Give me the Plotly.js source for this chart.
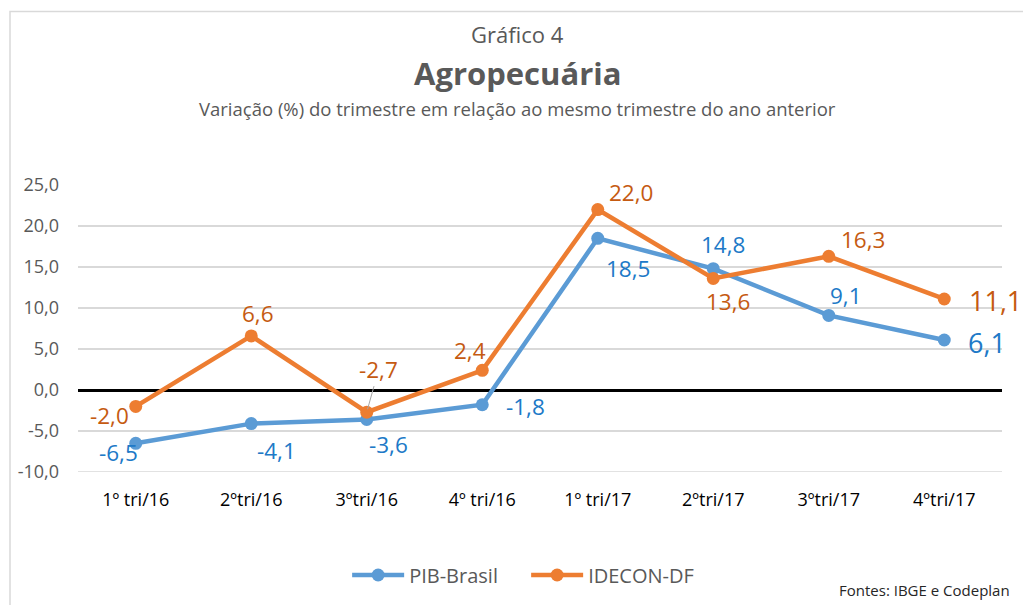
<!DOCTYPE html>
<html>
<head>
<meta charset="utf-8">
<script src="https://cdn.plot.ly/plotly-3.0.1.min.js"></script>
<style>
html,body{margin:0;padding:0;background:#fff;}
#chart{width:1023px;height:605px;}
</style>
</head>
<body>
<div id="chart"></div>
<script>
// ---- data ----
const categories = ["1º tri/16", "2ºtri/16", "3ºtri/16", "4º tri/16", "1º tri/17", "2ºtri/17", "3ºtri/17", "4ºtri/17"];
const pibBrasil = [-6.5, -4.1, -3.6, -1.8, 18.5, 14.8, 9.1, 6.1];
const ideconDF = [-2.0, 6.6, -2.7, 2.4, 22.0, 13.6, 16.3, 11.1];
const yTickValues = [-10, -5, 0, 5, 10, 15, 20, 25];

// ---- label placement (pixel offsets from each point) ----
const pibOffsets = [[-17, 9], [25, 27], [22, 25], [43, 2], [30, 30], [10, -24], [17, -20], [43, 3]];
const ideconOffsets = [[-26, 9], [7, -22], [12, -43], [-12, -20], [33, -17], [15, 23], [34, -17], [51, 2]];

const BLUE = "#5B9BD5", ORANGE = "#ED7D31";
const BLUE_TXT = "#2079C7", ORANGE_TXT = "#C55A11";
const FONT = "Open Sans";

function fmt(v) { return v.toFixed(1).replace(".", ","); }

const traces = [
  {
    x: categories, y: pibBrasil, name: "PIB-Brasil", type: "scatter", mode: "lines+markers",
    line: {color: BLUE, width: 4.5}, marker: {color: BLUE, size: 13}
  },
  {
    x: categories, y: ideconDF, name: "IDECON-DF", type: "scatter", mode: "lines+markers",
    line: {color: ORANGE, width: 4.5}, marker: {color: ORANGE, size: 13}
  }
];

const annotations = [];
function addLabels(vals, offs, color) {
  vals.forEach((v, i) => {
    const last = i === vals.length - 1;
    annotations.push({
      x: categories[i], y: v, xref: "x", yref: "y",
      text: fmt(v), showarrow: false,
      xshift: offs[i][0], yshift: -offs[i][1],
      font: {family: FONT, size: last ? 27 : 22.5, color: color},
      xanchor: "center", yanchor: "middle"
    });
  });
}
addLabels(pibBrasil, pibOffsets, BLUE_TXT);
addLabels(ideconDF, ideconOffsets, ORANGE_TXT);
// leader line for the 3ºtri/16 IDECON label
annotations.forEach(a => {
  if (a.x === categories[2] && a.y === ideconDF[2]) {
    a.showarrow = true; a.arrowhead = 0; a.arrowwidth = 1; a.arrowcolor = "#A6A6A6";
    a.ax = 12; a.ay = -43; a.axref = "pixel"; a.ayref = "pixel";
    a.xshift = 0; a.yshift = 0; a.standoff = 3;
  }
});

// titles
annotations.push({xref: "paper", yref: "paper", x: 0.476, y: (473 - 33) / 288, text: "Gráfico 4", showarrow: false,
  font: {family: FONT, size: 22, color: "#595959"}, xanchor: "center", yanchor: "middle"});
annotations.push({xref: "paper", yref: "paper", x: 0.476, y: (473 - 73) / 288, text: "<b>Agropecuária</b>", showarrow: false,
  font: {family: FONT, size: 31, color: "#595959"}, xanchor: "center", yanchor: "middle"});
annotations.push({xref: "paper", yref: "paper", x: 0.476, y: (473 - 108) / 288, text: "Variação (%) do trimestre em relação ao mesmo trimestre do ano anterior", showarrow: false,
  font: {family: FONT, size: 18.5, color: "#595959"}, xanchor: "center", yanchor: "middle"});
annotations.push({xref: "paper", yref: "paper", x: (1012 - 78) / 924, y: (473 - 591) / 288, text: "Fontes: IBGE e Codeplan", showarrow: false,
  font: {family: FONT, size: 15, color: "#262626"}, xanchor: "right", yanchor: "middle"});

const layout = {
  width: 1023, height: 605,
  margin: {l: 78, r: 21, t: 185, b: 132},
  paper_bgcolor: "#fff", plot_bgcolor: "#fff",
  font: {family: FONT, color: "#595959"},
  showlegend: true,
  legend: {orientation: "h", x: 0.485, xanchor: "center", y: (473 - 575) / 288, yanchor: "middle",
    font: {family: FONT, size: 20, color: "#595959"}, itemwidth: 52, entrywidth: 112},
  xaxis: {
    type: "category", range: [-0.5, 7.5], showgrid: false, zeroline: false, showline: false,
    ticks: "", tickfont: {family: FONT, size: 18, color: "#000"}, ticklabelstandoff: 15, fixedrange: true
  },
  yaxis: {
    range: [-10, 25], tickvals: yTickValues, ticktext: yTickValues.map(fmt),
    showgrid: true, gridcolor: "#D9D9D9", gridwidth: 1.5,
    zeroline: true, zerolinecolor: "#000", zerolinewidth: 3,
    showline: false, ticks: "", tickfont: {family: FONT, size: 18, color: "#595959"}, ticklabelstandoff: 18,
    fixedrange: true
  },
  shapes: [
    {type: "rect", xref: "paper", yref: "paper", x0: (10 - 78) / 924, x1: 1.1, y0: -0.6, y1: (473 - 11) / 288,
      line: {color: "#D9D9D9", width: 1.5}, fillcolor: "rgba(0,0,0,0)", layer: "below"},
    {type: "line", xref: "paper", yref: "y", x0: 0, x1: 1, y0: -10, y1: -10, line: {color: "#D9D9D9", width: 1.5}, layer: "below"}
  ],
  annotations: annotations,
  hovermode: false
};

Plotly.newPlot("chart", traces, layout, {displayModeBar: false, staticPlot: true});
</script>
</body>
</html>
